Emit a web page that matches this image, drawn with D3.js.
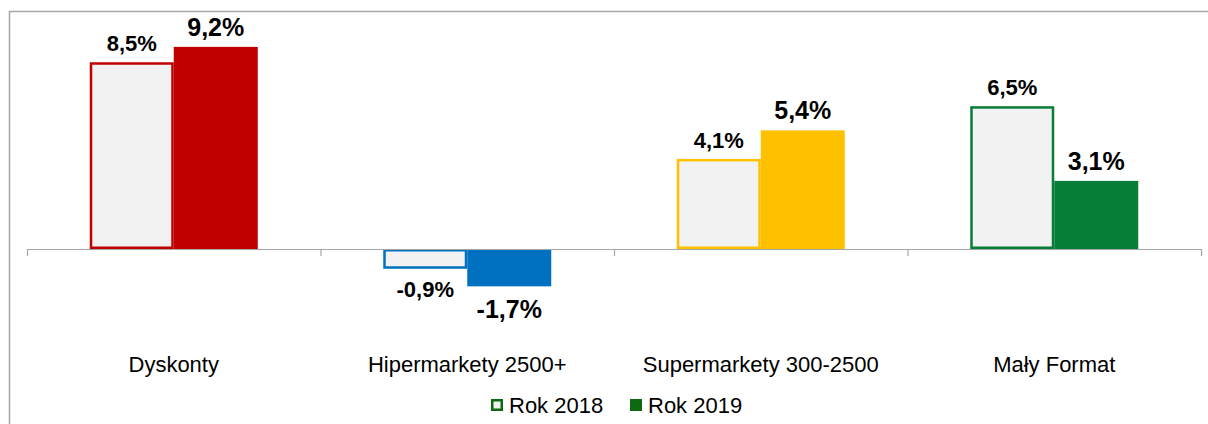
<!DOCTYPE html>
<html>
<head>
<meta charset="utf-8">
<script src="https://cdn.jsdelivr.net/npm/d3@7"></script>
<style>
  body { margin: 0; background: #fff; }
  svg { display: block; font-family: "Liberation Sans", Arial, sans-serif; }
</style>
</head>
<body>
<div id="chart"></div>
<script>
// Data
const categories = ['Dyskonty', 'Hipermarkety 2500+', 'Supermarkety 300-2500', 'Mały Format'];
const series = ['Rok 2018', 'Rok 2019'];
const values2018 = [8.5, -0.9, 4.1, 6.5];
const values2019 = [9.2, -1.7, 5.4, 3.1];
const labels2018 = ['8,5%', '-0,9%', '4,1%', '6,5%'];
const labels2019 = ['9,2%', '-1,7%', '5,4%', '3,1%'];
const categoryColors = ['#C00000', '#0070C0', '#FFC000', '#077D37'];

const width = 1208, height = 424;
const plot = {left: 27, right: 1201};
const groupWidth = 168;

const svg = d3.select('#chart')
    .append('svg')
    .attr('width', width)
    .attr('height', height);

// Frame (top and left edges visible)
svg.append('path')
    .attr('d', `M9.5,${height} V11.5 H${width}`)
    .attr('fill', 'none')
    .attr('stroke', '#A6A6A6')
    .attr('stroke-width', 1.5);

const x0 = d3.scaleBand()
    .domain(categories)
    .range([plot.left, plot.right]);

const x1 = d3.scaleBand()
    .domain(series)
    .range([0, groupWidth]);

const y = d3.scaleLinear()
    .domain([-3, 10])
    .range([314.9, 29.3]);

const rows = categories.map((c, i) => ({
    cat: c,
    color: categoryColors[i],
    bars: [
        {s: series[0], v: values2018[i], label: labels2018[i]},
        {s: series[1], v: values2019[i], label: labels2019[i]}
    ]
}));

const groups = svg.selectAll('g.cat')
    .data(rows)
    .join('g')
    .attr('class', 'cat')
    .attr('transform', d => `translate(${x0(d.cat) + (x0.bandwidth() - groupWidth) / 2},0)`);

// Bars
groups.each(function(d) {
    const g = d3.select(this);
    d.bars.forEach((b, j) => {
        const top = y(Math.max(0, b.v));
        const h = Math.abs(y(b.v) - y(0));
        if (j === 0) {
            g.append('rect')
                .attr('x', x1(b.s) + 1.25)
                .attr('y', top + 1.25)
                .attr('width', x1.bandwidth() - 2.5)
                .attr('height', h - 2.5)
                .attr('fill', '#F2F2F2')
                .attr('stroke', d.color)
                .attr('stroke-width', 2.5);
        } else {
            g.append('rect')
                .attr('x', x1(b.s))
                .attr('y', top)
                .attr('width', x1.bandwidth())
                .attr('height', h)
                .attr('fill', d.color);
        }

        const size = j === 0 ? 22 : 25;
        const ty = b.v >= 0 ? y(b.v) - 11 : y(b.v) + (j === 0 ? 28 : 32);
        g.append('text')
            .attr('x', x1(b.s) + x1.bandwidth() / 2)
            .attr('y', ty)
            .attr('text-anchor', 'middle')
            .style('font-size', size + 'px')
            .style('font-weight', 'bold')
            .style('fill', '#000')
            .text(b.label);
    });
});

// Zero axis line with category tick marks
svg.append('line')
    .attr('x1', plot.left)
    .attr('x2', plot.right)
    .attr('y1', y(0) + 0.5)
    .attr('y2', y(0) + 0.5)
    .attr('stroke', '#A6A6A6')
    .attr('stroke-width', 1.2);

const tickPos = categories.map(c => x0(c)).concat([plot.right]);
svg.selectAll('line.tick')
    .data(tickPos)
    .join('line')
    .attr('class', 'tick')
    .attr('x1', d => d + 0.5)
    .attr('x2', d => d + 0.5)
    .attr('y1', y(0))
    .attr('y2', y(0) + 7)
    .attr('stroke', '#A6A6A6')
    .attr('stroke-width', 1.2);

// Category labels
svg.selectAll('text.catlabel')
    .data(categories)
    .join('text')
    .attr('class', 'catlabel')
    .attr('x', d => x0(d) + x0.bandwidth() / 2)
    .attr('y', 372)
    .attr('text-anchor', 'middle')
    .style('font-size', '22px')
    .style('fill', '#000')
    .text(d => d);

// Legend
const legend = svg.append('g')
    .attr('transform', 'translate(491, 413)');

const legendItems = [
    {name: series[0], x: 0, filled: false},
    {name: series[1], x: 139, filled: true}
];

legendItems.forEach(it => {
    const lg = legend.append('g').attr('transform', `translate(${it.x},0)`);
    if (it.filled) {
        lg.append('rect')
            .attr('x', 0).attr('y', -14)
            .attr('width', 12).attr('height', 12)
            .attr('fill', '#0E6A12');
    } else {
        lg.append('rect')
            .attr('x', 1.25).attr('y', -12.75)
            .attr('width', 9.5).attr('height', 9.5)
            .attr('fill', '#F2F2F2')
            .attr('stroke', '#0E6A12')
            .attr('stroke-width', 2.5);
    }
    lg.append('text')
        .attr('x', 18)
        .attr('y', 0)
        .style('font-size', '22px')
        .style('fill', '#000')
        .text(it.name);
});
</script>
</body>
</html>
